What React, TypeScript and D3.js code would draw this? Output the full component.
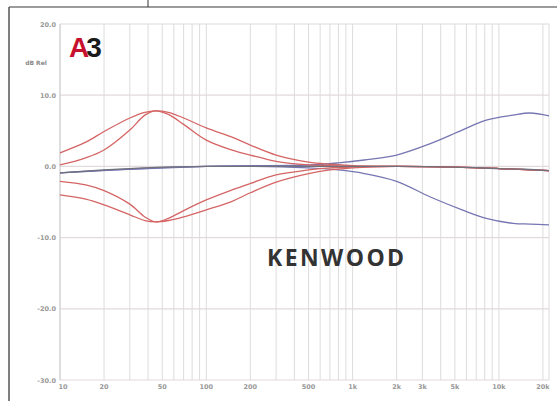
import React from "react";
import * as d3 from "d3";

const W = 557;
const H = 401;

const yTicks = [20, 10, 0, -10, -20, -30];
const yTickLabels = ["20.0", "10.0", "0.0", "-10.0", "-20.0", "-30.0"];
const xTicks = [10, 20, 50, 100, 200, 500, 1000, 2000, 3000, 5000, 10000, 20000];
const xTickLabels = ["10", "20", "50", "100", "200", "500", "1k", "2k", "3k", "5k", "10k", "20k"];

const redFreqs = [10, 15, 20, 30, 38, 45, 55, 70, 100, 150, 200, 300, 500, 700, 1000, 2000, 5000, 10000, 22000];
const redBoostWide = [1.9, 3.4, 4.9, 6.8, 7.6, 7.8, 7.6, 6.8, 5.4, 4.1, 3.0, 1.6, 0.6, 0.3, 0.1, 0, -0.1, -0.3, -0.6];
const redBoostNarrow = [0.2, 1.2, 2.3, 5.1, 7.2, 7.8, 7.3, 5.9, 3.7, 2.3, 1.6, 0.7, 0.2, 0.1, 0, 0, -0.1, -0.3, -0.6];
const redCutWide = [-4.0, -4.6, -5.4, -6.8, -7.6, -7.8, -7.6, -7.1, -6.1, -4.9, -3.7, -2.2, -1.0, -0.5, -0.2, 0, -0.1, -0.3, -0.6];
const redCutNarrow = [-2.1, -2.6, -3.4, -5.3, -7.1, -7.8, -7.3, -6.2, -4.7, -3.3, -2.4, -1.2, -0.5, -0.2, -0.1, 0, -0.1, -0.3, -0.6];

const flatFreqs = [10, 20, 30, 50, 100, 200, 500, 1000, 2000, 5000, 10000, 15000, 22000];
const flatVals = [-0.9, -0.5, -0.3, -0.1, 0, 0, 0, 0, 0, -0.1, -0.3, -0.4, -0.6];

const blueFreqs = [10, 100, 500, 800, 1200, 2000, 3400, 5600, 8200, 12500, 16300, 22000];
const blueBoost = [-0.9, 0, 0.2, 0.5, 0.9, 1.6, 3.2, 5.1, 6.5, 7.2, 7.5, 7.1];
const blueCut = [-0.9, 0, -0.2, -0.5, -1.0, -2.1, -4.3, -6.1, -7.3, -8.0, -8.1, -8.2];

const gridFreqs: number[] = [];
[10, 100, 1000, 10000].forEach((d) => {
  for (let m = 1; m <= 9; m++) {
    const f = d * m;
    if (f <= 20000) gridFreqs.push(f);
  }
});

export default function App() {
  const x = d3.scaleLog().domain([10, 22000]).range([60, 549]);
  const y = d3.scaleLinear().domain([-30, 20]).range([380, 24]);

  const line = (fs: number[], vs: number[]) =>
    d3
      .line<number>()
      .x((_, i) => x(fs[i]))
      .y((v) => y(v))
      .curve(d3.curveCatmullRom.alpha(0.5))(vs) || "";

  const red = "#d56565";
  const blue = "#7676b2";
  const gray = "#70717c";

  return (
    <svg
      width={W}
      height={H}
      style={{ position: "absolute", left: 0, top: 0, background: "#fff" }}
      fontFamily="DejaVu Sans, sans-serif"
    >
      <rect x={0} y={0} width={W} height={H} fill="#fff" />
      {/* frame */}
      <line x1={9} y1={7} x2={W} y2={7} stroke="#7a7a7a" strokeWidth={1.5} />
      <line x1={9} y1={7} x2={9} y2={H} stroke="#555" strokeWidth={1.5} />
      <line x1={148} y1={0} x2={148} y2={7} stroke="#333" strokeWidth={1} />

      {/* vertical grid */}
      {gridFreqs.map((f) => (
        <line key={"v" + f} x1={x(f)} x2={x(f)} y1={24} y2={380} stroke="#dcdcdc" strokeWidth={1} />
      ))}
      <line x1={549} x2={549} y1={24} y2={380} stroke="#dcdcdc" strokeWidth={1} />
      {/* horizontal grid */}
      {yTicks.map((t) => (
        <line key={"h" + t} x1={60} x2={549} y1={y(t)} y2={y(t)} stroke="#e2dada" strokeWidth={1.2} />
      ))}
      <line x1={60} x2={60} y1={24} y2={380} stroke="#cfcfcf" strokeWidth={1} />

      {/* y labels */}
      {yTicks.map((t, i) => (
        <text key={"yl" + t} x={56} y={y(t) + 2.5} textAnchor="end" fontSize={6.5} fontWeight="bold" fill="#999">
          {yTickLabels[i]}
        </text>
      ))}
      <text x={36} y={65} textAnchor="middle" fontSize={6} fontWeight="bold" fill="#8a8a8a">
        dB Rel
      </text>

      {/* x labels */}
      {xTicks.map((t, i) => (
        <text key={"xl" + t} x={x(t) + (i === 0 ? 3 : 0)} y={389} textAnchor="middle" fontSize={6.5} fontWeight="bold" fill="#999">
          {xTickLabels[i]}
        </text>
      ))}

      {/* logo */}
      <text x={69} y={57} fontSize={28} fontWeight="bold" fontFamily="Liberation Sans, Arial, sans-serif" letterSpacing={-3}>
        <tspan fill="#c8102e">A</tspan>
        <tspan fill="#1a1a1a">3</tspan>
      </text>

      {/* curves */}
      <path d={line(blueFreqs, blueBoost)} fill="none" stroke={blue} strokeWidth={1.3} />
      <path d={line(blueFreqs, blueCut)} fill="none" stroke={blue} strokeWidth={1.3} />
      <path d={line(redFreqs, redBoostWide)} fill="none" stroke={red} strokeWidth={1.3} />
      <path d={line(redFreqs, redBoostNarrow)} fill="none" stroke={red} strokeWidth={1.3} />
      <path d={line(redFreqs, redCutWide)} fill="none" stroke={red} strokeWidth={1.3} />
      <path d={line(redFreqs, redCutNarrow)} fill="none" stroke={red} strokeWidth={1.3} />
      <path d={line(flatFreqs, flatVals)} fill="none" stroke={gray} strokeWidth={1.3} />

      {/* brand */}
      <text x={267} y={266} fontSize={23} fontWeight="bold" fill="#333" fontFamily="Open Sans, DejaVu Sans, sans-serif" letterSpacing={2.4}>
        KENWOOD
      </text>
    </svg>
  );
}
